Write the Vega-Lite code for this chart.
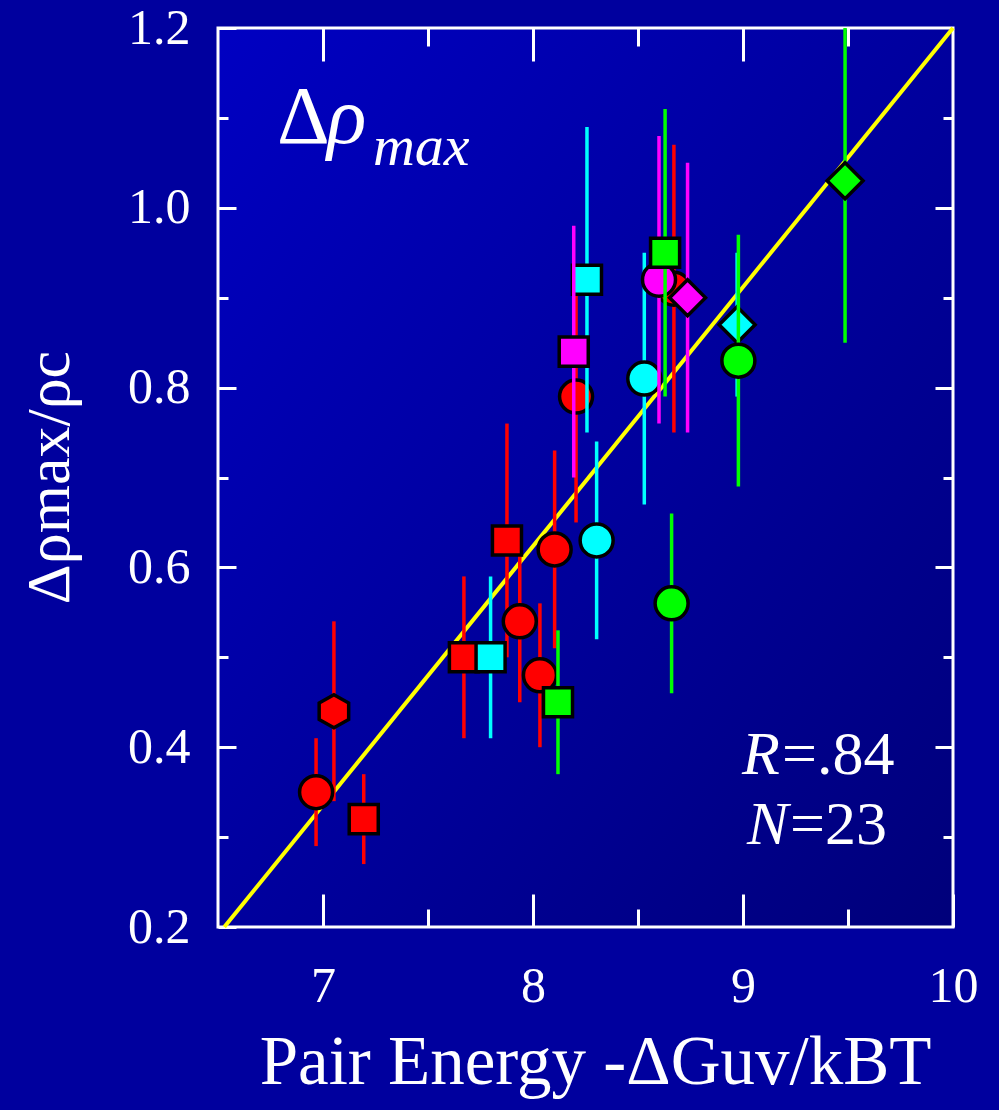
{
  "$schema": "https://vega.github.io/schema/vega-lite/v6.json",
  "width": 735,
  "height": 899,
  "autosize": "none",
  "padding": {"left": 218, "top": 28, "right": 46, "bottom": 183},
  "background": "#00009e",
  "config": {
    "font": "Liberation Serif, DejaVu Serif, serif",
    "view": {
      "stroke": "#ffffff",
      "strokeWidth": 3,
      "fill": {"gradient": "linear", "x1": 0, "y1": 0, "x2": 1, "y2": 1, "stops": [{"offset": 0, "color": "#0000c2"}, {"offset": 1, "color": "#00007a"}]}
    },
    "axis": {
      "domain": false,
      "grid": false,
      "tickColor": "#ffffff",
      "tickWidth": 3,
      "labelColor": "#ffffff",
      "titleColor": "#ffffff",
      "labelFont": "Liberation Serif, DejaVu Serif, serif",
      "titleFont": "Liberation Serif, DejaVu Serif, serif",
      "labelFontSize": 50,
      "titleFontWeight": "normal",
      "labelFlush": false,
      "labelOverlap": false,
      "labelBound": false
    }
  },
  "datasets": {
    "pts": [
      {"x": 6.967, "y": 0.35, "lo": 0.29, "hi": 0.41, "group": "red", "shape": "circle"},
      {"x": 7.052, "y": 0.44, "lo": 0.34, "hi": 0.54, "group": "red", "shape": "hexagon"},
      {"x": 7.194, "y": 0.32, "lo": 0.27, "hi": 0.37, "group": "red", "shape": "square"},
      {"x": 7.671, "y": 0.50, "lo": 0.41, "hi": 0.59, "group": "red", "shape": "square"},
      {"x": 7.876, "y": 0.63, "lo": 0.50, "hi": 0.76, "group": "red", "shape": "square"},
      {"x": 7.937, "y": 0.54, "lo": 0.45, "hi": 0.63, "group": "red", "shape": "circle"},
      {"x": 8.033, "y": 0.48, "lo": 0.40, "hi": 0.56, "group": "red", "shape": "circle"},
      {"x": 8.103, "y": 0.62, "lo": 0.51, "hi": 0.73, "group": "red", "shape": "circle"},
      {"x": 8.205, "y": 0.79, "lo": 0.65, "hi": 0.93, "group": "red", "shape": "circle"},
      {"x": 8.671, "y": 0.91, "lo": 0.75, "hi": 1.07, "group": "red", "shape": "circle"},
      {"x": 7.798, "y": 0.50, "lo": 0.41, "hi": 0.59, "group": "cyan", "shape": "square"},
      {"x": 8.257, "y": 0.92, "lo": 0.75, "hi": 1.09, "group": "cyan", "shape": "square"},
      {"x": 8.303, "y": 0.63, "lo": 0.52, "hi": 0.74, "group": "cyan", "shape": "circle"},
      {"x": 8.53, "y": 0.81, "lo": 0.67, "hi": 0.95, "group": "cyan", "shape": "circle"},
      {"x": 8.972, "y": 0.87, "lo": 0.79, "hi": 0.95, "group": "cyan", "shape": "diamond"},
      {"x": 8.194, "y": 0.84, "lo": 0.70, "hi": 0.98, "group": "magenta", "shape": "square"},
      {"x": 8.60, "y": 0.92, "lo": 0.76, "hi": 1.08, "group": "magenta", "shape": "circle"},
      {"x": 8.736, "y": 0.90, "lo": 0.75, "hi": 1.05, "group": "magenta", "shape": "diamond"},
      {"x": 8.119, "y": 0.45, "lo": 0.37, "hi": 0.53, "group": "green", "shape": "square"},
      {"x": 8.629, "y": 0.95, "lo": 0.79, "hi": 1.11, "group": "green", "shape": "square"},
      {"x": 8.66, "y": 0.56, "lo": 0.46, "hi": 0.66, "group": "green", "shape": "circle"},
      {"x": 8.978, "y": 0.83, "lo": 0.69, "hi": 0.97, "group": "green", "shape": "circle"},
      {"x": 9.486, "y": 1.03, "lo": 0.85, "hi": 1.2, "group": "green", "shape": "diamond"}
    ],
    "fit": [
      {"x": 6.53, "y": 0.2},
      {"x": 10.0, "y": 1.2}
    ]
  },
  "resolve": {"axis": {"x": "independent", "y": "independent"}},
  "layer": [
    {
      "data": {"name": "fit"},
      "mark": {"type": "line", "color": "#ffff00", "strokeWidth": 4},
      "encoding": {
        "x": {"field": "x", "type": "quantitative", "scale": {"domain": [6.5, 10], "nice": false, "zero": false}, "axis": null},
        "y": {"field": "y", "type": "quantitative", "scale": {"domain": [0.2, 1.2], "nice": false, "zero": false}, "axis": null}
      }
    },
    {
      "data": {"name": "pts"},
      "transform": [{"filter": "datum.group === 'red'"}],
      "mark": {"type": "rule", "strokeWidth": 3.5},
      "encoding": {
        "x": {"field": "x", "type": "quantitative", "scale": {"domain": [6.5, 10], "nice": false, "zero": false},
          "axis": {"orient": "bottom", "values": [7, 8, 9, 10], "format": "d", "tickSize": -33, "labelPadding": 67,
            "title": "Pair Energy  -ΔGuv/kBT", "titleFontSize": 69, "titleBaseline": "alphabetic", "titleAlign": "center", "titleX": 377, "titleY": 156}},
        "y": {"field": "lo", "type": "quantitative", "scale": {"domain": [0.2, 1.2], "nice": false, "zero": false},
          "axis": {"orient": "left", "values": [0.2, 0.4, 0.6, 0.8, 1.0, 1.2], "format": ".1f", "tickSize": -18, "labelPadding": 46,
            "title": "Δρmax/ρc", "titleFontSize": 62, "titleAngle": -90, "titleBaseline": "alphabetic", "titleAlign": "center", "titleX": -150, "titleY": 449}},
        "y2": {"field": "hi"},
        "color": {"field": "group", "type": "nominal", "scale": {"domain": ["red", "cyan", "magenta", "green"], "range": ["#ff0000", "#00ffff", "#ff00ff", "#00ff00"]}, "legend": null}
      }
    },
    {
      "data": {"name": "pts"},
      "transform": [{"filter": "datum.group === 'red'"}],
      "mark": {"type": "point", "filled": true, "opacity": 1, "size": 1089, "stroke": "#000000", "strokeWidth": 3.5},
      "encoding": {
        "x": {"field": "x", "type": "quantitative", "scale": {"domain": [6.5, 10], "nice": false, "zero": false},
          "axis": {"orient": "bottom", "values": [7.5, 8.5, 9.5], "tickSize": -18, "labels": false, "title": null}},
        "y": {"field": "y", "type": "quantitative", "scale": {"domain": [0.2, 1.2], "nice": false, "zero": false},
          "axis": {"orient": "left", "values": [0.3, 0.5, 0.7, 0.9, 1.1], "tickSize": -10, "labels": false, "title": null}},
        "fill": {"field": "group", "type": "nominal", "scale": {"domain": ["red", "cyan", "magenta", "green"], "range": ["#ff0000", "#00ffff", "#ff00ff", "#00ff00"]}, "legend": null},
        "shape": {"field": "shape", "type": "nominal", "scale": {"domain": ["circle", "square", "diamond", "hexagon"], "range": ["circle", "M-0.88,-0.88L0.88,-0.88L0.88,0.88L-0.88,0.88Z", "M-1.09,0L0,-1.09L1.09,0L0,1.09Z", "M0,-1L0.894,-0.5L0.894,0.5L0,1L-0.894,0.5L-0.894,-0.5Z"]}, "legend": null}
      }
    },
    {
      "data": {"name": "pts"},
      "transform": [{"filter": "datum.group === 'cyan'"}],
      "mark": {"type": "rule", "strokeWidth": 3.5},
      "encoding": {
        "x": {"field": "x", "type": "quantitative", "scale": {"domain": [6.5, 10], "nice": false, "zero": false},
          "axis": {"orient": "top", "values": [7, 8, 9], "tickSize": -33, "labels": false, "title": null}},
        "y": {"field": "lo", "type": "quantitative", "scale": {"domain": [0.2, 1.2], "nice": false, "zero": false},
          "axis": {"orient": "right", "values": [0.4, 0.6, 0.8, 1.0], "tickSize": -18, "labels": false, "title": null}},
        "y2": {"field": "hi"},
        "color": {"field": "group", "type": "nominal", "scale": {"domain": ["red", "cyan", "magenta", "green"], "range": ["#ff0000", "#00ffff", "#ff00ff", "#00ff00"]}, "legend": null}
      }
    },
    {
      "data": {"name": "pts"},
      "transform": [{"filter": "datum.group === 'cyan'"}],
      "mark": {"type": "point", "filled": true, "opacity": 1, "size": 1089, "stroke": "#000000", "strokeWidth": 3.5},
      "encoding": {
        "x": {"field": "x", "type": "quantitative", "scale": {"domain": [6.5, 10], "nice": false, "zero": false},
          "axis": {"orient": "top", "values": [7.5, 8.5, 9.5], "tickSize": -18, "labels": false, "title": null}},
        "y": {"field": "y", "type": "quantitative", "scale": {"domain": [0.2, 1.2], "nice": false, "zero": false},
          "axis": {"orient": "right", "values": [0.3, 0.5, 0.7, 0.9, 1.1], "tickSize": -10, "labels": false, "title": null}},
        "fill": {"field": "group", "type": "nominal", "scale": {"domain": ["red", "cyan", "magenta", "green"], "range": ["#ff0000", "#00ffff", "#ff00ff", "#00ff00"]}, "legend": null},
        "shape": {"field": "shape", "type": "nominal", "scale": {"domain": ["circle", "square", "diamond", "hexagon"], "range": ["circle", "M-0.88,-0.88L0.88,-0.88L0.88,0.88L-0.88,0.88Z", "M-1.09,0L0,-1.09L1.09,0L0,1.09Z", "M0,-1L0.894,-0.5L0.894,0.5L0,1L-0.894,0.5L-0.894,-0.5Z"]}, "legend": null}
      }
    },
    {
      "data": {"name": "pts"},
      "transform": [{"filter": "datum.group === 'magenta'"}],
      "mark": {"type": "rule", "strokeWidth": 3.5},
      "encoding": {
        "x": {"field": "x", "type": "quantitative", "scale": {"domain": [6.5, 10], "nice": false, "zero": false}, "axis": null},
        "y": {"field": "lo", "type": "quantitative", "scale": {"domain": [0.2, 1.2], "nice": false, "zero": false}, "axis": null},
        "y2": {"field": "hi"},
        "color": {"field": "group", "type": "nominal", "scale": {"domain": ["red", "cyan", "magenta", "green"], "range": ["#ff0000", "#00ffff", "#ff00ff", "#00ff00"]}, "legend": null}
      }
    },
    {
      "data": {"name": "pts"},
      "transform": [{"filter": "datum.group === 'magenta'"}],
      "mark": {"type": "point", "filled": true, "opacity": 1, "size": 1089, "stroke": "#000000", "strokeWidth": 3.5},
      "encoding": {
        "x": {"field": "x", "type": "quantitative", "scale": {"domain": [6.5, 10], "nice": false, "zero": false}, "axis": null},
        "y": {"field": "y", "type": "quantitative", "scale": {"domain": [0.2, 1.2], "nice": false, "zero": false}, "axis": null},
        "fill": {"field": "group", "type": "nominal", "scale": {"domain": ["red", "cyan", "magenta", "green"], "range": ["#ff0000", "#00ffff", "#ff00ff", "#00ff00"]}, "legend": null},
        "shape": {"field": "shape", "type": "nominal", "scale": {"domain": ["circle", "square", "diamond", "hexagon"], "range": ["circle", "M-0.88,-0.88L0.88,-0.88L0.88,0.88L-0.88,0.88Z", "M-1.09,0L0,-1.09L1.09,0L0,1.09Z", "M0,-1L0.894,-0.5L0.894,0.5L0,1L-0.894,0.5L-0.894,-0.5Z"]}, "legend": null}
      }
    },
    {
      "data": {"name": "pts"},
      "transform": [{"filter": "datum.group === 'green'"}],
      "mark": {"type": "rule", "strokeWidth": 3.5},
      "encoding": {
        "x": {"field": "x", "type": "quantitative", "scale": {"domain": [6.5, 10], "nice": false, "zero": false}, "axis": null},
        "y": {"field": "lo", "type": "quantitative", "scale": {"domain": [0.2, 1.2], "nice": false, "zero": false}, "axis": null},
        "y2": {"field": "hi"},
        "color": {"field": "group", "type": "nominal", "scale": {"domain": ["red", "cyan", "magenta", "green"], "range": ["#ff0000", "#00ffff", "#ff00ff", "#00ff00"]}, "legend": null}
      }
    },
    {
      "data": {"name": "pts"},
      "transform": [{"filter": "datum.group === 'green'"}],
      "mark": {"type": "point", "filled": true, "opacity": 1, "size": 1089, "stroke": "#000000", "strokeWidth": 3.5},
      "encoding": {
        "x": {"field": "x", "type": "quantitative", "scale": {"domain": [6.5, 10], "nice": false, "zero": false}, "axis": null},
        "y": {"field": "y", "type": "quantitative", "scale": {"domain": [0.2, 1.2], "nice": false, "zero": false}, "axis": null},
        "fill": {"field": "group", "type": "nominal", "scale": {"domain": ["red", "cyan", "magenta", "green"], "range": ["#ff0000", "#00ffff", "#ff00ff", "#00ff00"]}, "legend": null},
        "shape": {"field": "shape", "type": "nominal", "scale": {"domain": ["circle", "square", "diamond", "hexagon"], "range": ["circle", "M-0.88,-0.88L0.88,-0.88L0.88,0.88L-0.88,0.88Z", "M-1.09,0L0,-1.09L1.09,0L0,1.09Z", "M0,-1L0.894,-0.5L0.894,0.5L0,1L-0.894,0.5L-0.894,-0.5Z"]}, "legend": null}
      }
    },
    {
      "data": {"values": [{}]},
      "mark": {"type": "text", "text": "Δ", "font": "Liberation Serif, DejaVu Serif, serif", "fontSize": 82, "color": "#ffffff", "align": "left", "baseline": "alphabetic"},
      "encoding": {
        "x": {"datum": 6.781, "type": "quantitative", "axis": null},
        "y": {"datum": 1.0726, "type": "quantitative", "axis": null}
      }
    },
    {
      "data": {"values": [{}]},
      "mark": {"type": "text", "text": "ρ", "font": "Liberation Serif, DejaVu Serif, serif", "fontStyle": "italic", "fontSize": 82, "color": "#ffffff", "align": "left", "baseline": "alphabetic"},
      "encoding": {
        "x": {"datum": 7.019, "type": "quantitative", "axis": null},
        "y": {"datum": 1.0726, "type": "quantitative", "axis": null}
      }
    },
    {
      "data": {"values": [{}]},
      "mark": {"type": "text", "text": "max", "font": "Liberation Serif, DejaVu Serif, serif", "fontStyle": "italic", "fontSize": 58, "color": "#ffffff", "align": "left", "baseline": "alphabetic"},
      "encoding": {
        "x": {"datum": 7.238, "type": "quantitative", "axis": null},
        "y": {"datum": 1.048, "type": "quantitative", "axis": null}
      }
    },
    {
      "data": {"values": [{}]},
      "mark": {"type": "text", "text": "R", "font": "Liberation Serif, DejaVu Serif, serif", "fontStyle": "italic", "fontSize": 62, "color": "#ffffff", "align": "left", "baseline": "alphabetic"},
      "encoding": {
        "x": {"datum": 8.995, "type": "quantitative", "axis": null},
        "y": {"datum": 0.3703, "type": "quantitative", "axis": null}
      }
    },
    {
      "data": {"values": [{}]},
      "mark": {"type": "text", "text": "=.84", "font": "Liberation Serif, DejaVu Serif, serif", "fontSize": 62, "color": "#ffffff", "align": "left", "baseline": "alphabetic"},
      "encoding": {
        "x": {"datum": 9.186, "type": "quantitative", "axis": null},
        "y": {"datum": 0.3703, "type": "quantitative", "axis": null}
      }
    },
    {
      "data": {"values": [{}]},
      "mark": {"type": "text", "text": "N", "font": "Liberation Serif, DejaVu Serif, serif", "fontStyle": "italic", "fontSize": 62, "color": "#ffffff", "align": "left", "baseline": "alphabetic"},
      "encoding": {
        "x": {"datum": 9.019, "type": "quantitative", "axis": null},
        "y": {"datum": 0.2924, "type": "quantitative", "axis": null}
      }
    },
    {
      "data": {"values": [{}]},
      "mark": {"type": "text", "text": "=23", "font": "Liberation Serif, DejaVu Serif, serif", "fontSize": 62, "color": "#ffffff", "align": "left", "baseline": "alphabetic"},
      "encoding": {
        "x": {"datum": 9.224, "type": "quantitative", "axis": null},
        "y": {"datum": 0.2924, "type": "quantitative", "axis": null}
      }
    }
  ]
}
